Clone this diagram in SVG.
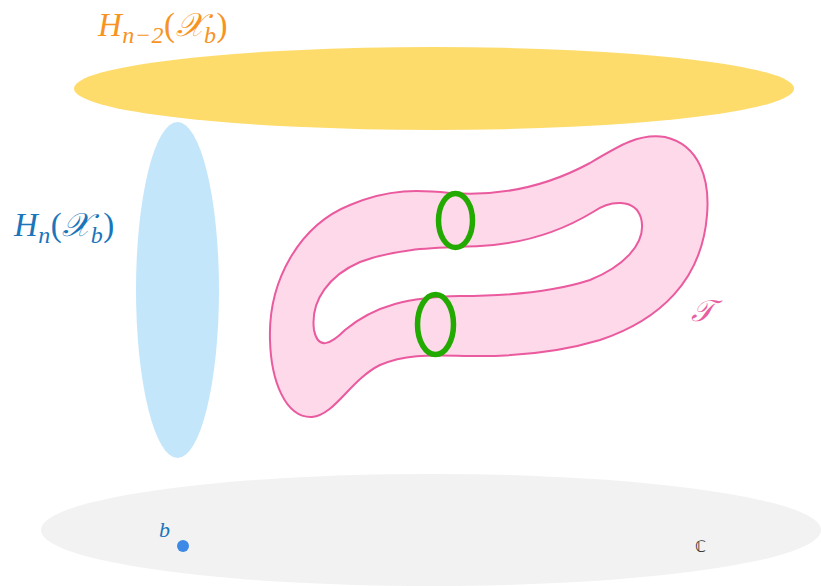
<svg xmlns="http://www.w3.org/2000/svg" width="821" height="586" viewBox="0 0 821 586">
<style>
.lab{font-family:"Liberation Serif","DejaVu Serif",serif;font-style:italic}
.up{font-style:normal}
</style>
<rect width="821" height="586" fill="#ffffff"/>
<g id="base"><ellipse cx="431" cy="530" rx="390" ry="56" fill="#f2f2f2"/></g>
<g id="fiber-top"><ellipse cx="434" cy="88.5" rx="360" ry="41.5" fill="#fddc6c"/></g>
<g id="fiber-left"><ellipse cx="177.5" cy="290" rx="41.5" ry="168" fill="#c4e6fb"/></g>
<g id="tube">
<path fill="#fdd9ea" stroke="#ea5a9e" stroke-width="2" fill-rule="evenodd" d="M 270,340 C 268,280 300,225 350,205 C 390,188 420,190 450,193 C 490,196 540,190 590,163 C 620,145 640,133 665,137 C 700,145 710,180 707,215 C 702,280 660,320 600,340 C 560,352 520,356 480,356 C 440,356 410,352 380,365 C 350,380 335,415 312,417 C 285,418 271,380 270,340 Z M 593,212 C 610,200 635,198 641,218 C 648,245 620,268 590,280 C 550,293 500,296 460,296 C 410,297 375,305 345,330 C 330,345 318,350 314,330 C 310,300 330,275 360,262 C 400,247 440,248 480,246 C 520,244 560,232 593,212 Z"/>
</g>
<g id="cycle-top"><ellipse cx="455.5" cy="220.5" rx="17" ry="27" fill="none" stroke="#22aa00" stroke-width="5.5"/></g>
<g id="cycle-bottom"><ellipse cx="435.5" cy="324.5" rx="18" ry="30" fill="none" stroke="#22aa00" stroke-width="5.5"/></g>
<g id="point-b"><circle cx="183" cy="546" r="6" fill="#3d8ae6"/></g>
<g id="labels">
<text class="lab" x="98" y="36" font-size="33" letter-spacing="0.5" fill="#f7931e">H<tspan font-size="24" dy="7">n−2</tspan><tspan class="up" dy="-7">(</tspan>𝒳<tspan font-size="24" dy="7">b</tspan><tspan class="up" dy="-7">)</tspan></text>
<text class="lab" x="14" y="236" font-size="33" letter-spacing="0.5" fill="#1a75bb">H<tspan font-size="24" dy="7">n</tspan><tspan class="up" dy="-7">(</tspan>𝒳<tspan font-size="24" dy="7">b</tspan><tspan class="up" dy="-7">)</tspan></text>
<text class="lab" x="691" y="321" font-size="30" fill="#e75fa0">𝒯</text>
<text class="lab" x="159" y="537" font-size="22" fill="#1a75bb">b</text>
<text x="695" y="552" font-size="16" fill="#333333" font-family="DejaVu Sans,sans-serif">ℂ</text>
</g>
</svg>
